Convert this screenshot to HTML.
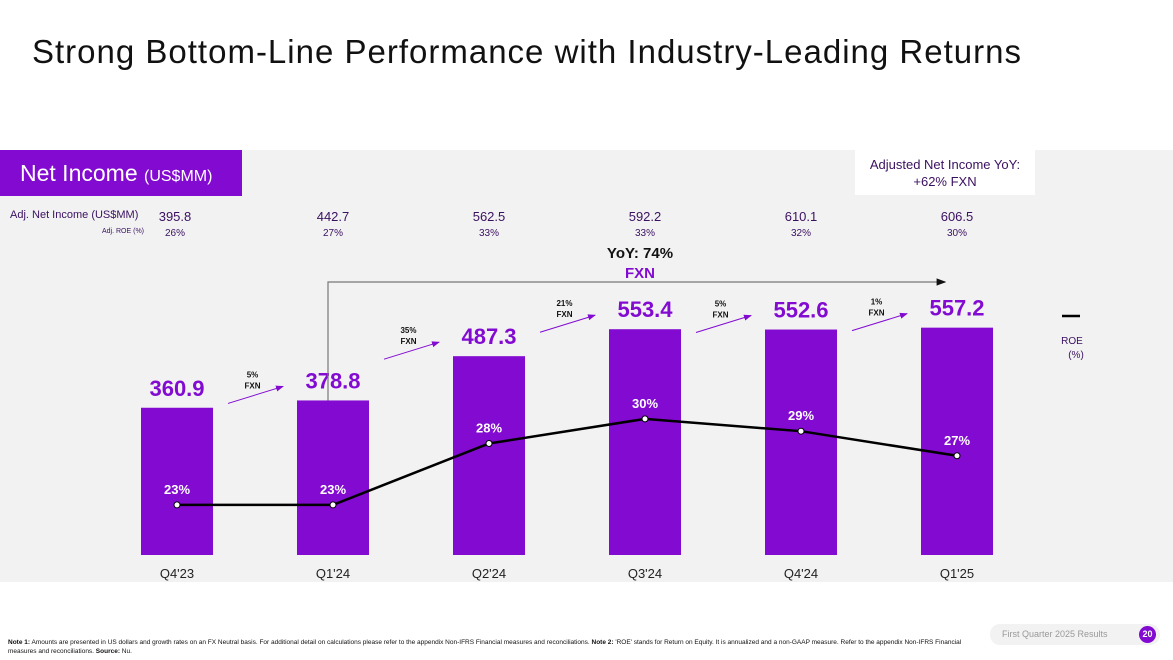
<!DOCTYPE html>
<html><head><meta charset="utf-8"><style>
body{margin:0;width:1173px;height:660px;background:#fff;font-family:"Liberation Sans",sans-serif;overflow:hidden;position:relative}
.t{position:absolute}
</style></head><body>
<div class="t" style="left:32px;top:33px;font-size:33px;letter-spacing:1px;color:#111">Strong Bottom-Line Performance with Industry-Leading Returns</div>
<div class="t" style="left:0;top:150px;width:1173px;height:432px;background:#f2f2f2"></div>
<div class="t" style="left:0;top:150px;width:242px;height:46px;background:#820ad1;color:#fff;font-size:23px;line-height:46px;padding-left:20px;box-sizing:border-box">Net Income <span style="font-size:16px">(US$MM)</span></div>
<div class="t" style="left:855px;top:150px;width:180px;height:45px;background:#fff;color:#3a1060;font-size:13px;text-align:center;line-height:17px;padding-top:6px;box-sizing:border-box">Adjusted Net Income YoY:<br>+62% FXN</div>
<div class="t" style="left:10px;top:209px;font-size:11px;color:#3a1060">Adj. Net Income (US$MM)</div>
<div class="t" style="left:102px;top:228px;font-size:7px;color:#3a1060">Adj. ROE (%)</div>
<svg id="c" class="t" style="left:0;top:0" width="1173" height="660"></svg>
<div class="t" style="left:8px;top:638px;font-size:6.5px;line-height:9px;color:#111;width:970px"><b>Note 1:</b> Amounts are presented in US dollars and growth rates on an FX Neutral basis. For additional detail on calculations please refer to the appendix Non-IFRS Financial measures and reconciliations. <b>Note 2:</b> 'ROE' stands for Return on Equity. It is annualized and a non-GAAP measure. Refer to the appendix Non-IFRS Financial measures and reconciliations. <b>Source:</b> Nu.</div>
<div class="t" style="left:990px;top:624px;width:170px;height:21px;background:#f2f2f2;border-radius:10px;font-size:9px;color:#999;line-height:21px;padding-left:12px;box-sizing:border-box">First Quarter 2025 Results</div>
<div class="t" style="left:1139px;top:626px;width:17px;height:17px;border-radius:50%;background:#820ad1;color:#fff;font-size:9px;font-weight:bold;text-align:center;line-height:17px">20</div>
<script>
const categories=["Q4'23","Q1'24","Q2'24","Q3'24","Q4'24","Q1'25"];
const netIncome=[360.9,378.8,487.3,553.4,552.6,557.2];
const roe=[23,23,28,30,29,27];
const adjNetIncome=["395.8","442.7","562.5","592.2","610.1","606.5"];
const adjRoe=["26%","27%","33%","33%","32%","30%"];
const growth=["5%","35%","21%","5%","1%"];
const P="#820ad1",NS="http://www.w3.org/2000/svg",svg=document.getElementById('c');
const x=i=>177+i*156, y=v=>555-v*0.408, yr=r=>787.6-r*12.29;
function el(t,a,txt){const e=document.createElementNS(NS,t);for(const k in a)e.setAttribute(k,a[k]);if(txt!=null)e.textContent=txt;svg.appendChild(e);return e;}
const d=el('defs',{});d.innerHTML='<marker id="ap" markerWidth="8" markerHeight="8" refX="7" refY="4" orient="auto"><path d="M0,1 L8,4 L0,7z" fill="#820ad1"/></marker><marker id="ak" markerWidth="8" markerHeight="8" refX="7" refY="4" orient="auto"><path d="M0,1 L8,4 L0,7z" fill="#111"/></marker>';
netIncome.forEach((v,i)=>{
 const b=el('rect',{x:x(i)-36,y:y(v),width:72,height:555-y(v),fill:P});
 
 
 const l=el('text',{x:x(i),y:y(v)-12,'text-anchor':'middle','font-size':22,'font-weight':'bold',fill:P},v.toFixed(1));
 
 
 const c=el('text',{x:x(i),y:578,'text-anchor':'middle','font-size':13,fill:'#222'},categories[i]);
 
 
 const a=el('text',{x:x(i)+(i==0?-2:0),y:221,'text-anchor':'middle','font-size':13,fill:'#3a1060'},adjNetIncome[i]);
 
 
 const r=el('text',{x:x(i)+(i==0?-2:0),y:236,'text-anchor':'middle','font-size':10,fill:'#3a1060'},adjRoe[i]);
 
 
});
growth.forEach((g,i)=>{
 const ey=y(netIncome[i+1])-14, sx=x(i)+51, ex=x(i+1)-50;
 const a=el('line',{x1:sx,y1:ey+17,x2:ex,y2:ey,stroke:P,'stroke-width':1,'marker-end':'url(#ap)'});
 
 
 const t=el('text',{x:(sx+ex)/2-3,y:ey-9,'text-anchor':'middle','font-size':8,'font-weight':'bold',fill:'#111'});
 
 
 t.innerHTML='<tspan x="'+((sx+ex)/2-3)+'">'+g+'</tspan><tspan x="'+((sx+ex)/2-3)+'" dy="11">FXN</tspan>';
});
const yoy=el('path',{d:`M${x(1)-5},${y(netIncome[1])} V282 H${x(5)-12}`,fill:'none',stroke:'#777','stroke-width':1.2,'marker-end':'url(#ak)'});


const yt=el('text',{x:640,y:258,'text-anchor':'middle','font-size':15,'font-weight':'bold',fill:'#111'},'YoY: 74%');


const yf=el('text',{x:640,y:278,'text-anchor':'middle','font-size':15,'font-weight':'bold',fill:P},'FXN');


const ln=el('polyline',{points:roe.map((r,i)=>`${x(i)},${yr(r)}`).join(' '),fill:'none',stroke:'#000','stroke-width':2.5});


roe.forEach((r,i)=>{
 const p=el('circle',{cx:x(i),cy:yr(r),r:3,fill:'#fff',stroke:'#000','stroke-width':1});
 
 
 const t=el('text',{x:x(i),y:yr(r)-11,'text-anchor':'middle','font-size':13,'font-weight':'bold',fill:'#fff'},r+'%');
 
 
});
const lg=el('line',{x1:1062,y1:316,x2:1080,y2:316,stroke:'#000','stroke-width':2.5});


const lt=el('text',{x:1072,y:344,'text-anchor':'middle','font-size':10,fill:'#3a1060'},'ROE');


const lt2=el('text',{x:1076,y:358,'text-anchor':'middle','font-size':10,fill:'#3a1060'},'(%)');


</script>
</body></html>
